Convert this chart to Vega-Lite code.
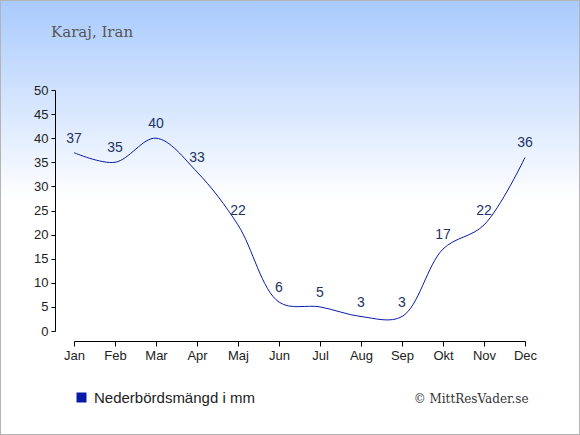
{
  "$schema": "https://vega.github.io/schema/vega-lite/v6.json",
  "autosize": "none",
  "width": 580,
  "height": 435,
  "padding": 0,
  "background": "#ffffff",
  "data": {
    "values": [
      {"month": "Jan", "mm": 37},
      {"month": "Feb", "mm": 35},
      {"month": "Mar", "mm": 40},
      {"month": "Apr", "mm": 33},
      {"month": "Maj", "mm": 22},
      {"month": "Jun", "mm": 6},
      {"month": "Jul", "mm": 5},
      {"month": "Aug", "mm": 3},
      {"month": "Sep", "mm": 3},
      {"month": "Okt", "mm": 17},
      {"month": "Nov", "mm": 22},
      {"month": "Dec", "mm": 36}
    ]
  },
  "title": {
    "text": "Karaj, Iran",
    "anchor": "start",
    "frame": "group",
    "orient": "top",
    "offset": -40,
    "dx": 51,
    "font": "DejaVu Serif",
    "fontSize": 15,
    "fontWeight": "normal",
    "color": "#555555"
  },
  "encoding": {
    "x": {
      "field": "month",
      "type": "ordinal",
      "sort": null,
      "scale": {"type": "point", "range": [74, 525], "padding": 0},
      "axis": {
        "orient": "bottom",
        "offset": -94,
        "labelAngle": 0,
        "labelFont": "Liberation Sans",
        "labelFontSize": 13,
        "labelColor": "#222222",
        "labelPadding": 3,
        "domainColor": "#000000",
        "tickColor": "#000000",
        "tickSize": 5,
        "grid": false,
        "title": "© MittResVader.se",
        "titleFont": "DejaVu Serif",
        "titleFontSize": 12,
        "titleFontWeight": "normal",
        "titleColor": "#333333",
        "titleAlign": "right",
        "titleAnchor": null,
        "titleBaseline": "middle",
        "titleX": 528,
        "titleY": 57
      }
    },
    "y": {
      "field": "mm",
      "type": "quantitative",
      "scale": {"domain": [0, 50], "range": [331, 90], "nice": false},
      "axis": {
        "orient": "left",
        "offset": -55,
        "values": [0, 5, 10, 15, 20, 25, 30, 35, 40, 45, 50],
        "labelFont": "Liberation Sans",
        "labelFontSize": 13,
        "labelColor": "#222222",
        "labelPadding": 3,
        "domainColor": "#000000",
        "tickColor": "#000000",
        "tickSize": 4,
        "grid": false,
        "title": null
      }
    }
  },
  "layer": [
    {
      "mark": {"type": "line", "interpolate": "catmull-rom", "strokeWidth": 1, "color": "#2b3bcc"},
      "encoding": {
        "color": {
          "datum": "Nederbördsmängd i mm",
          "type": "nominal",
          "scale": {"range": ["#0a1aa8"]},
          "legend": {
            "orient": "none",
            "legendX": 74,
            "legendY": 390,
            "title": null,
            "symbolType": "square",
            "symbolSize": 100,
            "symbolFillColor": "#0a1aa8",
            "symbolStrokeWidth": 0,
            "labelFont": "Liberation Sans",
            "labelFontSize": 15,
            "labelLimit": 400,
            "labelColor": "#222222",
            "labelOffset": 5
          }
        }
      }
    },
    {
      "mark": {"type": "text", "dy": -14, "font": "Liberation Sans", "fontSize": 14, "color": "#223366"},
      "encoding": {"text": {"field": "mm", "type": "quantitative"}}
    }
  ],
  "config": {
    "view": {
      "stroke": "#b4b4b4",
      "strokeWidth": 2,
      "fill": {
        "gradient": "linear",
        "x1": 0, "y1": 0, "x2": 0, "y2": 1,
        "stops": [
          {"offset": 0, "color": "#a8cafd"},
          {"offset": 0.46, "color": "#ffffff"},
          {"offset": 1, "color": "#ffffff"}
        ]
      }
    }
  }
}
